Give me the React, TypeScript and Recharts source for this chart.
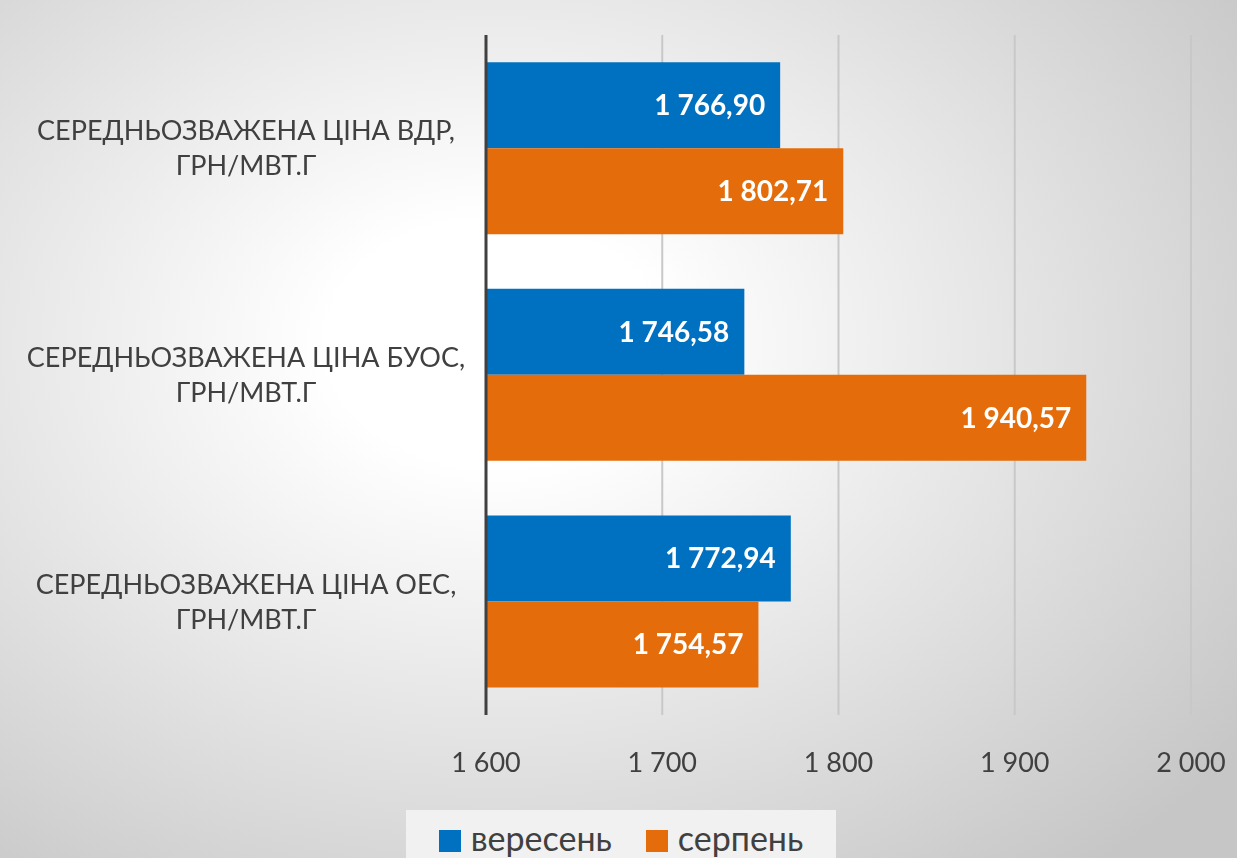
import { BarChart, Bar, XAxis, YAxis, CartesianGrid, LabelList } from "recharts"

// categories and series values
const categories = [
  "СЕРЕДНЬОЗВАЖЕНА ЦІНА ВДР, ГРН/МВТ.Г",
  "СЕРЕДНЬОЗВАЖЕНА ЦІНА БУОС, ГРН/МВТ.Г",
  "СЕРЕДНЬОЗВАЖЕНА ЦІНА ОЕС, ГРН/МВТ.Г",
]
const september = [1766.9, 1746.58, 1772.94]
const august = [1802.71, 1940.57, 1754.57]
const xTicks = [1600, 1700, 1800, 1900, 2000]

const seriesNames = { sep: "вересень", aug: "серпень" }
const colors = { sep: "#0070C0", aug: "#E46C0A" }

const data = categories.map((name, i) => ({
  name,
  sep: september[i],
  aug: august[i],
}))

const FONT = "Lato, 'Open Sans', sans-serif"
const TEXT = "#404040"

// "1 766,90" style
function fmtValue(v: number) {
  const [int, dec] = v.toFixed(2).split(".")
  return int.replace(/\B(?=(\d{3})+(?!\d))/g, " ") + "," + dec
}
function fmtTick(v: number) {
  return String(v).replace(/\B(?=(\d{3})+(?!\d))/g, " ")
}

function CategoryTick(props: any) {
  const { x, y, payload } = props
  const text: string = payload.value
  const cut = text.indexOf(", ")
  const lines = cut >= 0 ? [text.slice(0, cut + 1), text.slice(cut + 2)] : [text]
  const cx = x - 232
  return (
    <text x={cx} y={y} textAnchor="middle" fill={TEXT} fontSize={27} fontFamily={FONT}>
      {lines.map((l, i) => (
        <tspan key={i} x={cx} dy={i === 0 ? -8 : 35}>
          {l}
        </tspan>
      ))}
    </text>
  )
}

function ChartLegend() {
  const items = [
    { key: "sep", label: seriesNames.sep, color: colors.sep },
    { key: "aug", label: seriesNames.aug, color: colors.aug },
  ]
  return (
    <div
      style={{
        position: "absolute",
        left: 406,
        top: 810,
        width: 430,
        height: 48,
        background: "#f1f1f1",
        display: "flex",
        alignItems: "flex-end",
        justifyContent: "center",
        gap: 34,
        fontFamily: FONT,
        fontSize: 34,
        lineHeight: "40px",
        color: TEXT,
        paddingBottom: 0,
      }}
    >
      {items.map((it) => (
        <div key={it.key} style={{ display: "flex", alignItems: "center", gap: 10 }}>
          <span style={{ width: 22, height: 22, background: it.color, display: "inline-block", marginTop: 6 }} />
          <span>{it.label}</span>
        </div>
      ))}
    </div>
  )
}

export default function App() {
  return (
    <div
      style={{
        position: "fixed",
        left: 0,
        top: 0,
        width: 1237,
        height: 858,
        overflow: "hidden",
        background: "radial-gradient(ellipse 75% 80% at 40% 40%, #ffffff 0%, #ffffff 18%, #c6c6c6 100%)",
      }}
    >
      <BarChart
        width={1237}
        height={858}
        data={data}
        layout="vertical"
        barCategoryGap="12%"
        barGap={0}
        margin={{ top: 35, right: 46, left: 0, bottom: 83 }}
      >
        <CartesianGrid horizontal={false} stroke="#c8c8c8" strokeWidth={2} />
        <XAxis
          type="number"
          domain={[1600, 2000]}
          ticks={xTicks}
          tickFormatter={fmtTick}
          axisLine={false}
          tickLine={false}
          height={60}
          tickMargin={32}
          tick={{ fill: TEXT, fontSize: 27, fontFamily: FONT }}
        />
        <YAxis
          type="category"
          dataKey="name"
          width={486}
          axisLine={{ stroke: "#404040", strokeWidth: 3 }}
          tickLine={false}
          tick={<CategoryTick />}
        />
        <Bar dataKey="sep" name={seriesNames.sep} fill={colors.sep} isAnimationActive={false}>
          <LabelList
            dataKey="sep"
            position="insideRight"
            offset={15}
            formatter={(v: any) => fmtValue(Number(v))}
            fill="#ffffff"
            fontSize={28}
            fontWeight="bold"
            fontFamily={FONT}
          />
        </Bar>
        <Bar dataKey="aug" name={seriesNames.aug} fill={colors.aug} isAnimationActive={false}>
          <LabelList
            dataKey="aug"
            position="insideRight"
            offset={15}
            formatter={(v: any) => fmtValue(Number(v))}
            fill="#ffffff"
            fontSize={28}
            fontWeight="bold"
            fontFamily={FONT}
          />
        </Bar>
      </BarChart>
      <ChartLegend />
    </div>
  )
}
